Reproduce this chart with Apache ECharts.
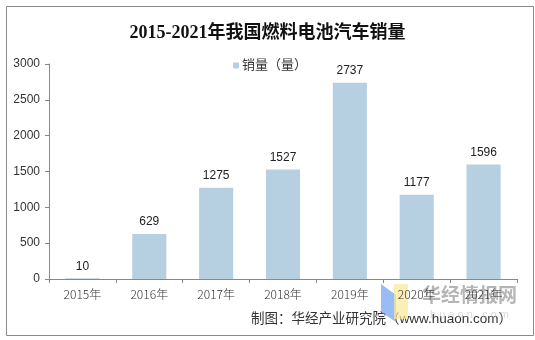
<!DOCTYPE html>
<html>
<head>
<meta charset="utf-8">
<script src="https://cdn.jsdelivr.net/npm/echarts@6/dist/echarts.min.js"></script>
<style>
  html, body { margin: 0; padding: 0; background: #fff; }
  #chart { width: 535px; height: 340px; }
</style>
</head>
<body>
<div id="chart"></div>
<script>
// Annual sales of fuel-cell vehicles in China, 2015-2021
const years = ['2015年', '2016年', '2017年', '2018年', '2019年', '2020年', '2021年'];
const sales = [10, 629, 1275, 1527, 2737, 1177, 1596];
const yTicks = [0, 500, 1000, 1500, 2000, 2500, 3000];

const chart = echarts.init(document.getElementById('chart'), null, { renderer: 'canvas' });

const sansFont = 'Arial, "Liberation Sans", "Noto Sans CJK SC", sans-serif';
const cjkFont = '"Noto Sans CJK SC", "Liberation Sans", sans-serif';

chart.setOption({
  animation: false,
  backgroundColor: '#ffffff',
  title: {
    text: '2015-2021年我国燃料电池汽车销量',
    left: 'center',
    top: 19,
    textStyle: {
      fontFamily: '"Liberation Serif", "Noto Sans CJK SC", serif',
      fontWeight: 'bold',
      fontSize: 18,
      color: '#111'
    }
  },
  legend: {
    data: ['销量（量）'],
    left: 228,
    top: 54,
    itemWidth: 6,
    itemHeight: 6,
    itemGap: 4,
    icon: 'rect',
    textStyle: { fontFamily: sansFont, fontSize: 13, color: '#333', padding: [0, 0, 0, -2] }
  },
  grid: { left: 49, right: 18, top: 64, bottom: 61 },
  xAxis: {
    type: 'category',
    data: years,
    axisLine: { lineStyle: { color: '#888', width: 1 } },
    axisTick: { show: true, alignWithLabel: false, length: 4, lineStyle: { color: '#888' } },
    axisLabel: { fontFamily: cjkFont, fontSize: 12, fontWeight: 300, color: '#333', margin: 9 }
  },
  yAxis: {
    type: 'value',
    min: yTicks[0],
    max: yTicks[yTicks.length - 1],
    interval: yTicks[1] - yTicks[0],
    axisLine: { show: true, lineStyle: { color: '#888', width: 1 } },
    axisTick: { show: true, length: 4, inside: false, lineStyle: { color: '#888' } },
    splitLine: { show: false },
    axisLabel: {
      fontFamily: sansFont, fontSize: 12, color: '#333', margin: 9,
      formatter: (v) => String(v)
    }
  },
  series: [{
    name: '销量（量）',
    type: 'bar',
    data: sales,
    barCategoryGap: '49%',
    itemStyle: { color: '#b7d0e1' },
    label: {
      show: true,
      position: 'top',
      distance: 6,
      fontFamily: sansFont,
      fontSize: 12,
      color: '#222'
    }
  }],
  graphic: [
    {
      type: 'rect',
      left: 4, top: 4,
      shape: { x: 0, y: 0, width: 527, height: 329 },
      style: { fill: 'none', stroke: '#8a8a8a', lineWidth: 1 },
      silent: true
    },
    {
      type: 'text',
      right: 23, top: 313,
      style: {
        text: '制图：华经产业研究院（www.huaon.com）',
        font: '13.5px Arial, "Noto Sans CJK SC", sans-serif',
        fill: '#333'
      }
    },
    // site watermark
    {
      type: 'group',
      z: 100,
      children: [
        {
          type: 'polygon',
          shape: { points: [[381, 284], [396, 295], [396, 322], [381, 312]] },
          style: { fill: 'rgba(120,165,240,0.75)' }
        },
        {
          type: 'rect',
          shape: { x: 394, y: 284, width: 14, height: 35 },
          style: { fill: 'rgba(250,232,150,0.7)' }
        },
        {
          type: 'text',
          x: 422, y: 285,
          style: {
            text: '华经情报网',
            font: 'bold 19px "Noto Sans CJK SC", sans-serif',
            fill: 'rgba(150,150,150,0.7)'
          }
        },
        {
          type: 'text',
          x: 430, y: 309,
          style: {
            text: 'h u a o n . c o m',
            font: '11px Arial, sans-serif',
            fill: 'rgba(190,190,190,0.55)'
          }
        }
      ]
    }
  ]
});
</script>
</body>
</html>
